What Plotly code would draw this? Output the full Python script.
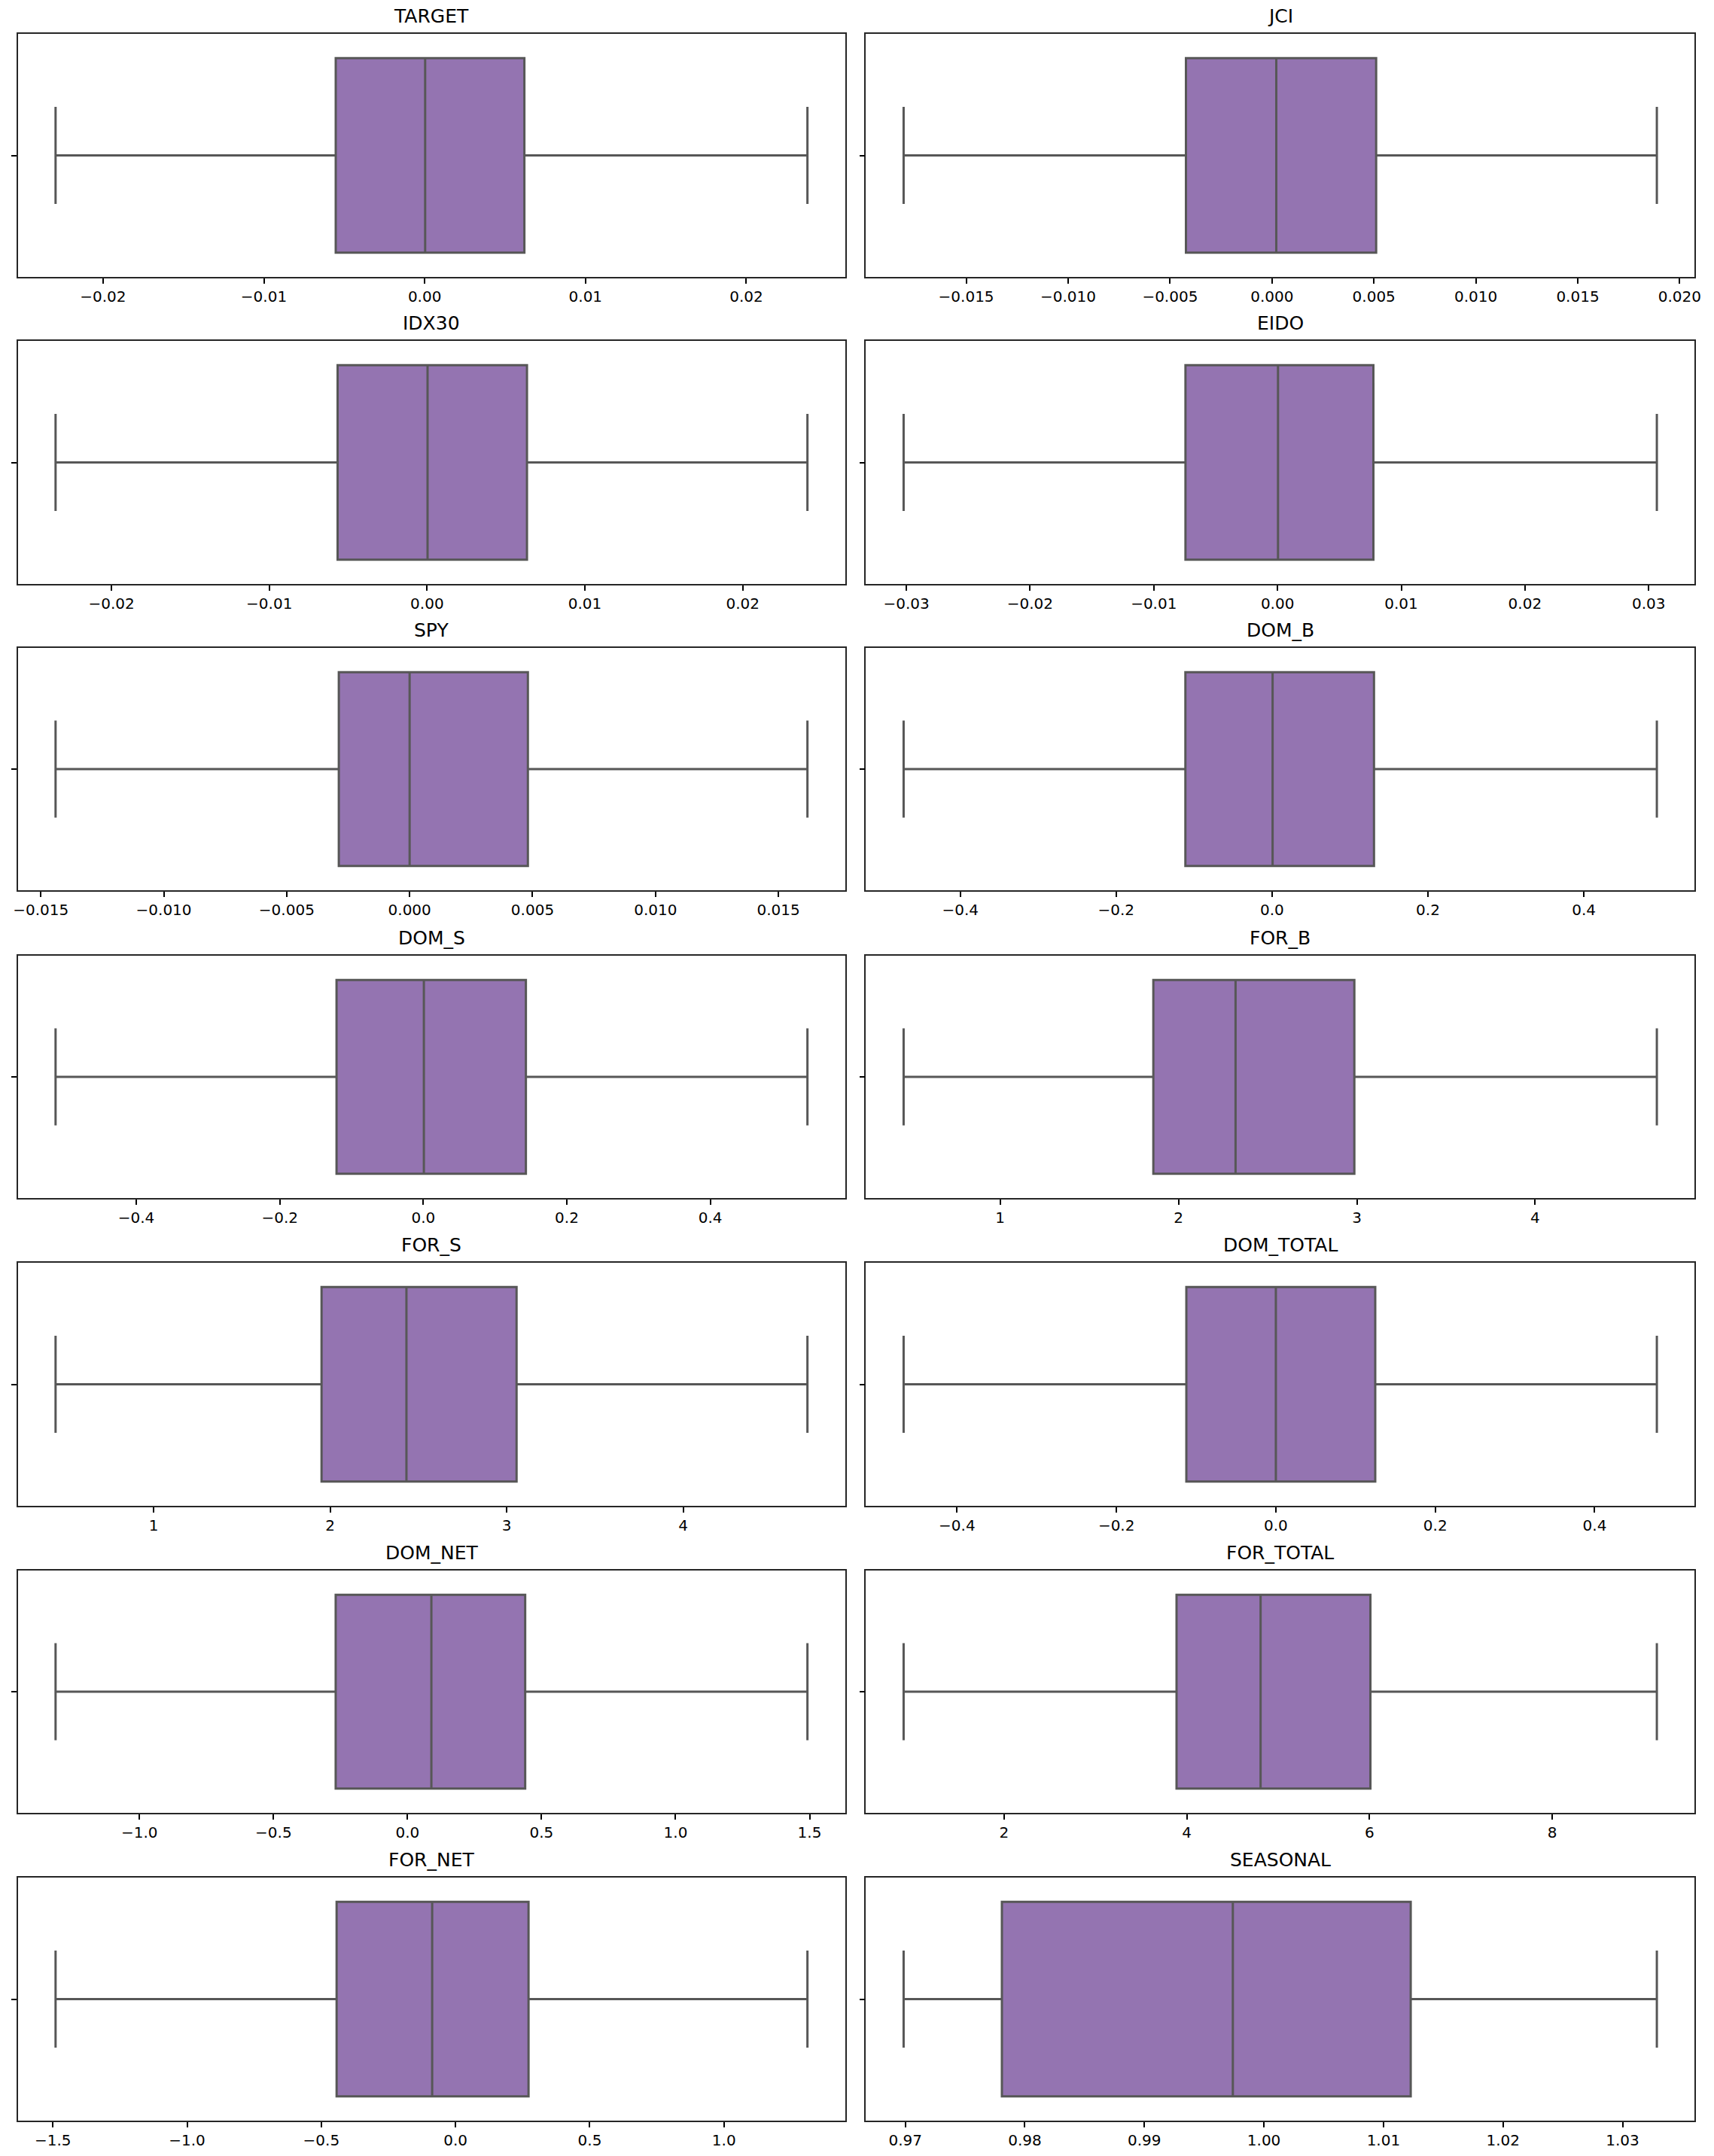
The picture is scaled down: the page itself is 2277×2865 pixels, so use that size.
import plotly.graph_objects as go

# ---- data ----
names = ["TARGET", "JCI", "IDX30", "EIDO", "SPY", "DOM_B", "DOM_S", "FOR_B",
         "FOR_S", "DOM_TOTAL", "DOM_NET", "FOR_TOTAL", "FOR_NET", "SEASONAL"]
lower_whisker = [-0.02295, -0.01807, -0.02354, -0.03022, -0.0144, -0.4727, -0.5125, 0.459,
                 0.444, -0.467, -1.313, 0.901, -1.490, 0.96986]
q1_values = [-0.00553, -0.00422, -0.00567, -0.00744, -0.00288, -0.1112, -0.1209, 1.859,
             1.951, -0.1123, -0.268, 3.888, -0.443, 0.97808]
median_values = [0.00003, 0.00021, 0.00003, 0.00004, 0.0, 0.0007, 0.0008, 2.320,
                 2.432, 0.0, 0.089, 4.808, -0.087, 0.99740]
q3_values = [0.0062, 0.00511, 0.00633, 0.00775, 0.00481, 0.1308, 0.143, 2.986,
             3.056, 0.1247, 0.439, 6.01, 0.272, 1.01228]
upper_whisker = [0.0238, 0.01888, 0.02410, 0.03066, 0.01618, 0.4937, 0.5354, 4.682,
                 4.704, 0.478, 1.492, 9.145, 1.311, 1.03287]
tick_steps = [0.01, 0.005, 0.01, 0.01, 0.005, 0.2, 0.2, 1, 1, 0.2, 0.5, 2, 0.5, 0.01]
tick_formats = [".2f", ".3f", ".2f", ".2f", ".3f", ".1f", ".1f", "d",
                "d", ".1f", ".1f", "d", ".1f", ".2f"]

W, H = 2277, 2865
col_x = [(18, 1124), (1152, 2260)]
row_top = [45, 453, 861, 1270, 1678, 2087, 2495]
row_bot = [368, 776, 1183, 1592, 2001, 2409, 2818]

FILL = "#9474B1"
LINE = "#575757"
FONT = "DejaVu Sans"

fig = go.Figure()
annotations = []
for i, name in enumerate(names):
    r, c = divmod(i, 2)
    ax = "" if i == 0 else str(i + 1)
    xa, ya = "x" + ax, "y" + ax
    fig.add_trace(go.Box(
        y=[0], orientation="h",
        q1=[q1_values[i]], median=[median_values[i]], q3=[q3_values[i]],
        lowerfence=[lower_whisker[i]], upperfence=[upper_whisker[i]],
        width=0.8, whiskerwidth=0.5, fillcolor=FILL,
        line=dict(color=LINE, width=3),
        xaxis=xa, yaxis=ya, showlegend=False, hoverinfo="skip",
    ))
    lo, hi = lower_whisker[i], upper_whisker[i]
    pad = 0.05 * (hi - lo)
    xd = [col_x[c][0] / W, col_x[c][1] / W]
    yd = [1 - row_bot[r] / H, 1 - row_top[r] / H]
    fig.layout["xaxis" + ax] = dict(
        domain=xd, anchor=ya, range=[lo - pad, hi + pad],
        tick0=0, dtick=tick_steps[i], tickformat=tick_formats[i],
        ticks="outside", ticklen=7, tickwidth=1.6, tickcolor="black",
        showline=True, mirror=True, linecolor="#262626", linewidth=1.8,
        showgrid=False, zeroline=False,
        tickfont=dict(family=FONT, size=20, color="black"),
    )
    fig.layout["yaxis" + ax] = dict(
        domain=yd, anchor=xa, range=[0.5, -0.5],
        tickmode="array", tickvals=[0], ticktext=[""],
        ticks="outside", ticklen=7, tickwidth=1.6, tickcolor="black",
        showline=True, mirror=True, linecolor="#262626", linewidth=1.8,
        showgrid=False, zeroline=False,
    )
    annotations.append(dict(
        text=name, x=(xd[0] + xd[1]) / 2, y=yd[1], xref="paper", yref="paper",
        xanchor="center", yanchor="bottom", yshift=7, showarrow=False,
        font=dict(family=FONT, size=25, color="black"),
    ))

fig.update_layout(
    width=W, height=H, margin=dict(l=0, r=0, t=0, b=0),
    paper_bgcolor="white", plot_bgcolor="white",
    annotations=annotations,
)
fig.write_html("out.html")
